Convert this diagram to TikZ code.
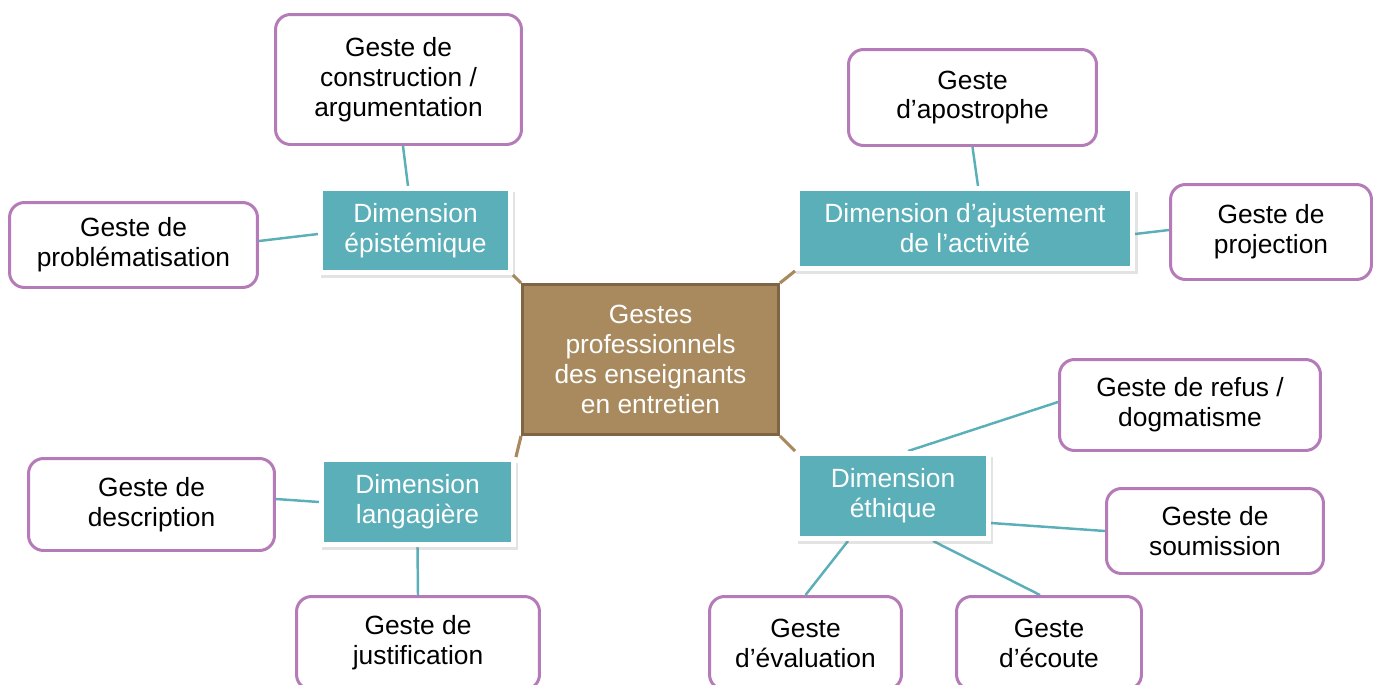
\documentclass[tikz,border=0pt]{standalone}
\usepackage{fontspec}
\setmainfont{Liberation Sans}
\usetikzlibrary{shadows,backgrounds}
\definecolor{bleuvert}{HTML}{5AAFB8}
\definecolor{mauve}{HTML}{B57AB8}
\definecolor{brun}{HTML}{A88A5E}
\definecolor{brunfonce}{HTML}{7F6543}
\begin{document}
\begin{tikzpicture}[x=0.02cm,y=-0.02cm,
	txt/.style={align=center,inner sep=0pt,font=\fontsize{15}{17}\selectfont},
	geste/.style={txt,draw=mauve,line width=1.7pt,rounded corners=0.3cm,fill=white},
	dimension/.style={txt,draw=white,line width=2.8pt,fill=bleuvert,text=white,
		drop shadow={shadow xshift=1.2pt,shadow yshift=-2.6pt,shadow scale=1.02,opacity=0.22}},
	centre/.style={txt,draw=brunfonce,line width=1.7pt,fill=brun,text=white},
	lien/.style={draw=bleuvert,line width=1.4pt},
	tige/.style={draw=brun,line width=1.8pt}]
		\useasboundingbox (0,0) rectangle (1373,684);
		\node[centre,minimum width=5.12cm,minimum height=3cm] (gestes) at (650.5,359.5) {Gestes\\professionnels\\des enseignants\\en entretien};
		\node[dimension,minimum width=3.8cm,minimum height=1.68cm] (epist) at (415.5,230.5) {Dimension\\épistémique};
		\node[dimension,minimum width=6.7cm,minimum height=1.6cm] (ajust) at (965,228.5) {Dimension d’ajustement\\de l’activité};
		\node[dimension,minimum width=3.84cm,minimum height=1.7cm] (lang) at (417.5,502) {Dimension\\langagière};
		\node[dimension,minimum width=3.82cm,minimum height=1.7cm] (ethique) at (893,496) {Dimension\\éthique};
		\node[geste,minimum width=4.92cm,minimum height=2.6cm] (constr) at (398.5,79.5) {Geste de\\construction /\\argumentation};
		\node[geste,minimum width=4.96cm,minimum height=1.7cm] (probl) at (133.5,245) {Geste de\\problématisation};
		\node[geste,minimum width=4.96cm,minimum height=1.92cm] (apos) at (972.5,97.5) {Geste\\d’apostrophe};
		\node[geste,minimum width=4.02cm,minimum height=1.9cm] (proj) at (1271,232) {Geste de\\projection};
		\node[geste,minimum width=5.22cm,minimum height=1.82cm] (refus) at (1190,405) {Geste de refus /\\dogmatisme};
		\node[geste,minimum width=4.34cm,minimum height=1.7cm] (soum) at (1215,531) {Geste de\\soumission};
		\node[geste,minimum width=3.84cm,minimum height=1.86cm] (eval) at (805.5,643) {Geste\\d’évaluation};
		\node[geste,minimum width=3.7cm,minimum height=1.86cm] (ecoute) at (1049,643) {Geste\\d’écoute};
		\node[geste,minimum width=4.92cm,minimum height=1.84cm] (desc) at (151.5,504.5) {Geste de\\description};
		\node[geste,minimum width=4.86cm,minimum height=1.86cm] (justif) at (418,643) {Geste de\\justification};
		\begin{scope}[on background layer]
		\draw[tige] (gestes.north west) -- (epist.south east);
		\draw[tige] (gestes.north east) -- (ajust.south west);
		\draw[tige] (gestes.south west) -- (lang.north east);
		\draw[tige] (gestes.south east) -- (ethique.north west);
		\draw[lien] ([xshift=0.09cm]constr.south) -- ([xshift=-0.15cm]epist.north);
		\draw[lien] ([yshift=0.08cm]probl.east) -- ([yshift=-0.07cm]epist.west);
		\draw[lien] (apos.south) -- ([xshift=0.26cm]ajust.north);
		\draw[lien] ([yshift=-0.11cm]ajust.east) -- ([yshift=0.04cm]proj.west);
		\draw[lien] ([yshift=0.06cm]refus.west) -- ([xshift=0.3cm]ethique.north);
		\draw[lien] ([yshift=-0.54cm]ethique.east) -- (soum.west);
		\draw[lien] ([xshift=-0.9cm]ethique.south) -- (eval.north);
		\draw[lien] ([xshift=0.8cm]ethique.south) -- ([xshift=-0.18cm]ecoute.north);
		\draw[lien] (lang.west) -- ([yshift=0.11cm]desc.east);
		\draw[lien] (lang.south) -- (justif.north);
		\end{scope}
\end{tikzpicture}
\end{document}
